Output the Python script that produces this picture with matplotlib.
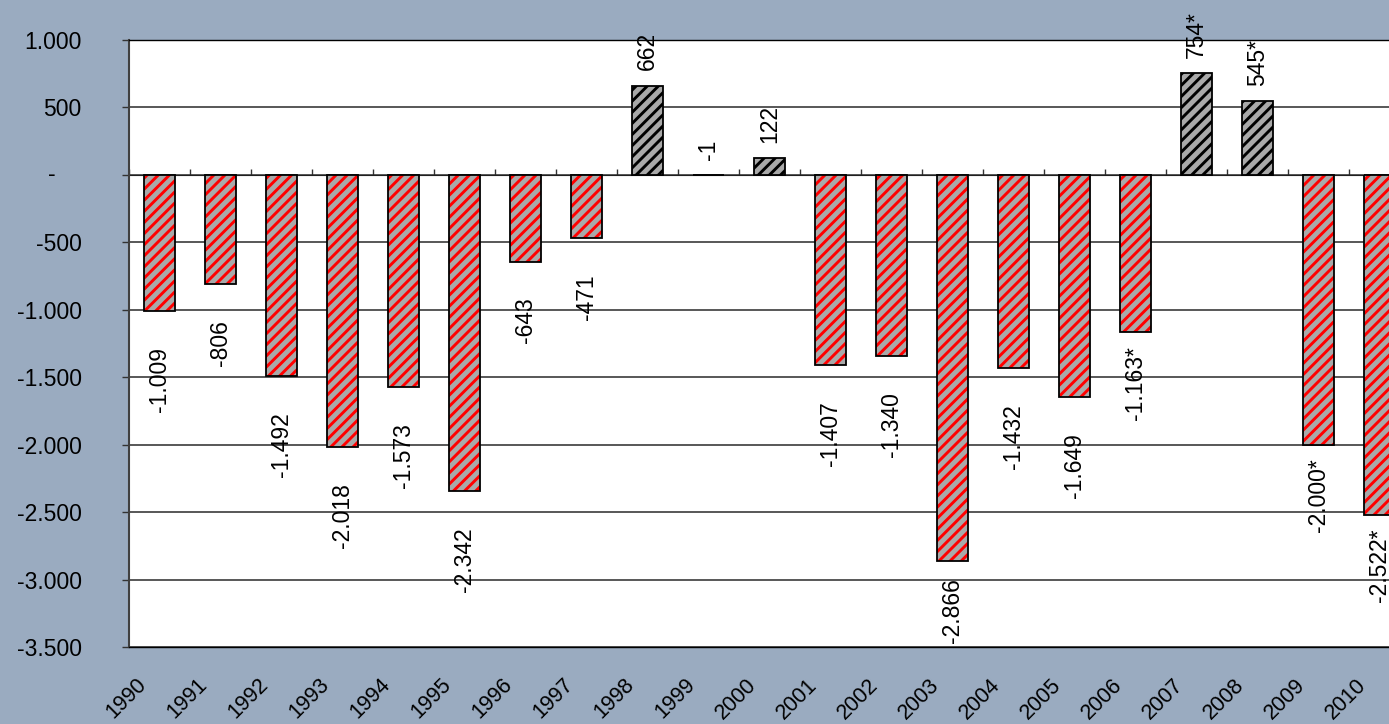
import numpy as np
import matplotlib
matplotlib.use("Agg")
import matplotlib.pyplot as plt
import matplotlib.transforms as mtransforms
from matplotlib.ticker import FuncFormatter

# saldo per anno (i valori con * sono stime)
years = [str(y) for y in range(1990, 2011)]
values = [-1009, -806, -1492, -2018, -1573, -2342, -643, -471, 662, -1, 122,
          -1407, -1340, -2866, -1432, -1649, -1163, 754, 545, -2000, -2522]
estimated = [False] * 16 + [True] * 5

bg = '#9AABC0'
plt.rcParams['font.family'] = ['Liberation Sans', 'DejaVu Sans']
plt.rcParams['hatch.linewidth'] = 2.1


def fmt_it(v):
    # separatore delle migliaia col punto
    return f"{int(v):,}".replace(',', '.')


fig = plt.figure(figsize=(13.89, 7.24), dpi=100, facecolor=bg)
ax = fig.add_axes([129 / 1389, 77 / 724, 1281 / 1389, 607 / 724])
ax.set_facecolor('white')

x = np.arange(len(years))
hatch_cols = ['#ff0000' if v < -1 else '#000000' for v in values]

# riempimento tratteggiato + bordo nero
ax.bar(x, values, width=0.52, color='#a9a9a9', edgecolor=hatch_cols,
       hatch='///', linewidth=0, zorder=3)
ax.bar(x, values, width=0.52, fill=False, edgecolor='black',
       linewidth=1.3, zorder=4)

ax.set_xlim(-0.5, len(years) - 0.5)
ax.set_ylim(-3500, 1000)
ax.set_yticks(np.arange(-3500, 1001, 500))
ax.yaxis.set_major_formatter(FuncFormatter(lambda v, p: '' if v == 0 else fmt_it(v)))
ax.yaxis.grid(True, color='#2a2a2a', linewidth=1.1)
ax.set_axisbelow(True)
ax.tick_params(axis='y', length=5, width=1, pad=29, labelsize=16.5, color='#333333')
ax.text(-0.06, 0, '-', transform=ax.get_yaxis_transform(), ha='center',
        va='center', fontsize=16.5)

ax.set_xticks(x)
ax.set_xticklabels(years, rotation=45, ha='right', va='center',
                   rotation_mode='anchor', fontsize=15.5)
ax.tick_params(axis='x', length=0, pad=25)
shift = mtransforms.ScaledTranslation(-16 / 100, 0, fig.dpi_scale_trans)
for lab in ax.get_xticklabels():
    lab.set_transform(lab.get_transform() + shift)

for s in ['top', 'bottom']:
    ax.spines[s].set_color('black')
    ax.spines[s].set_linewidth(1)
ax.spines['left'].set_color('#404040')
ax.spines['left'].set_linewidth(1.5)
ax.spines['right'].set_visible(False)

# asse orizzontale sullo zero con le tacche tra le categorie
lo, hi = ax.get_ylim()
sec = ax.secondary_xaxis((0 - lo) / (hi - lo))
sec.set_xticks(np.arange(-0.5, len(years), 1.0))
sec.set_xticklabels([])
sec.tick_params(length=4.5, width=1, direction='out', color='#333333')
sec.spines['bottom'].set_color('black')
sec.spines['bottom'].set_linewidth(1.2)

# etichette dei valori
anns = []
for xi, v, est in zip(x, values, estimated):
    label = fmt_it(v) + ('*' if est else '')
    if v > -50:
        off, va = 11, 'bottom'
    else:
        off, va = (-10 if est else -26), 'top'
    t = ax.annotate(label, (xi, v), xytext=(0, off), textcoords='offset points',
                    rotation=90, ha='center', va=va, fontsize=16.5, zorder=5)
    anns.append(t)

# le etichette restano dentro l'area del grafico
fig.canvas.draw()
ab = ax.get_window_extent()
for t in anns:
    bb = t.get_window_extent()
    if bb.y0 < ab.y0 + 4:
        dx, dy = t.xyann
        t.xyann = (dx, dy + (ab.y0 + 4 - bb.y0) * 72 / fig.dpi)

fig.savefig('out.png', dpi=100, facecolor=bg)
